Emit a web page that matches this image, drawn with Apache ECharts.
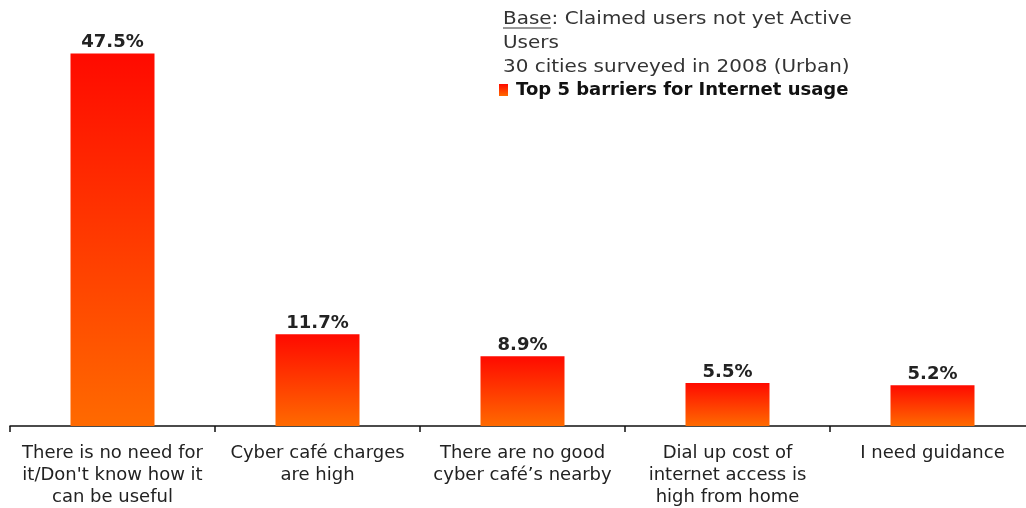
<!DOCTYPE html>
<html lang="en">
<head>
    <meta charset="UTF-8">
    <title>Top 5 barriers for Internet usage</title>
    <script src="https://cdn.jsdelivr.net/npm/echarts@6/dist/echarts.min.js"></script>
</head>
<body style="margin:0;background:#fff">
<div id="main" style="width:1026px;height:508px"></div>
<script type="text/javascript">
    var categories = [
        'There is no need for\nit/Don\'t know how it\ncan be useful',
        'Cyber café charges\nare high',
        'There are no good\ncyber café\u2019s nearby',
        'Dial up cost of\ninternet access is\nhigh from home',
        'I need guidance'
    ];
    var values = [47.5, 11.7, 8.9, 5.5, 5.2];
    var seriesName = 'Top 5 barriers for Internet usage';
    var noteLines = ['Base: Claimed users not yet Active', 'Users', '30 cities surveyed in 2008 (Urban)'];

    var font = '"DejaVu Sans", Verdana, sans-serif';
    var barColor = new echarts.graphic.LinearGradient(0, 0, 0, 1, [
        {offset: 0, color: '#ff0a00'},
        {offset: 1, color: '#ff6a00'}
    ]);

    var myChart = echarts.init(document.getElementById('main'));
    myChart.setOption({
        animation: false,
        grid: {left: 10, top: 34, width: 1025, height: 392, outerBoundsMode: 'none'},
        legend: {
            left: 494, top: 76,
            itemWidth: 9, itemHeight: 12, itemGap: 0,
            icon: 'rect',
            textStyle: {fontFamily: font, fontSize: 18, fontWeight: 'bold', color: '#111', padding: [0, 0, 0, 3]},
            data: [seriesName]
        },
        graphic: [
            {type: 'text', x: 503, y: 7, scaleX: 1.14, style: {
                text: noteLines.join('\n'), font: '17.5px ' + font, fill: '#333', lineHeight: 24
            }},
            {type: 'line', shape: {x1: 503, y1: 28, x2: 551, y2: 28}, style: {stroke: '#333', lineWidth: 1}}
        ],
        xAxis: {
            type: 'category',
            data: categories,
            axisLine: {lineStyle: {color: '#111', width: 1.5}},
            axisTick: {show: true, interval: 0, length: 6, lineStyle: {color: '#111', width: 1.5}},
            axisLabel: {
                interval: 0, margin: 16, lineHeight: 22,
                fontFamily: font, fontSize: 18, color: '#222'
            }
        },
        yAxis: {type: 'value', min: 0, max: 50, show: false},
        series: [{
            name: seriesName,
            type: 'bar',
            data: values,
            barWidth: 84,
            itemStyle: {color: barColor},
            label: {
                show: true, position: 'top', distance: 2,
                formatter: '{c}%',
                fontFamily: font, fontSize: 18, fontWeight: 'bold', color: '#222'
            }
        }]
    });
</script>
</body>
</html>
